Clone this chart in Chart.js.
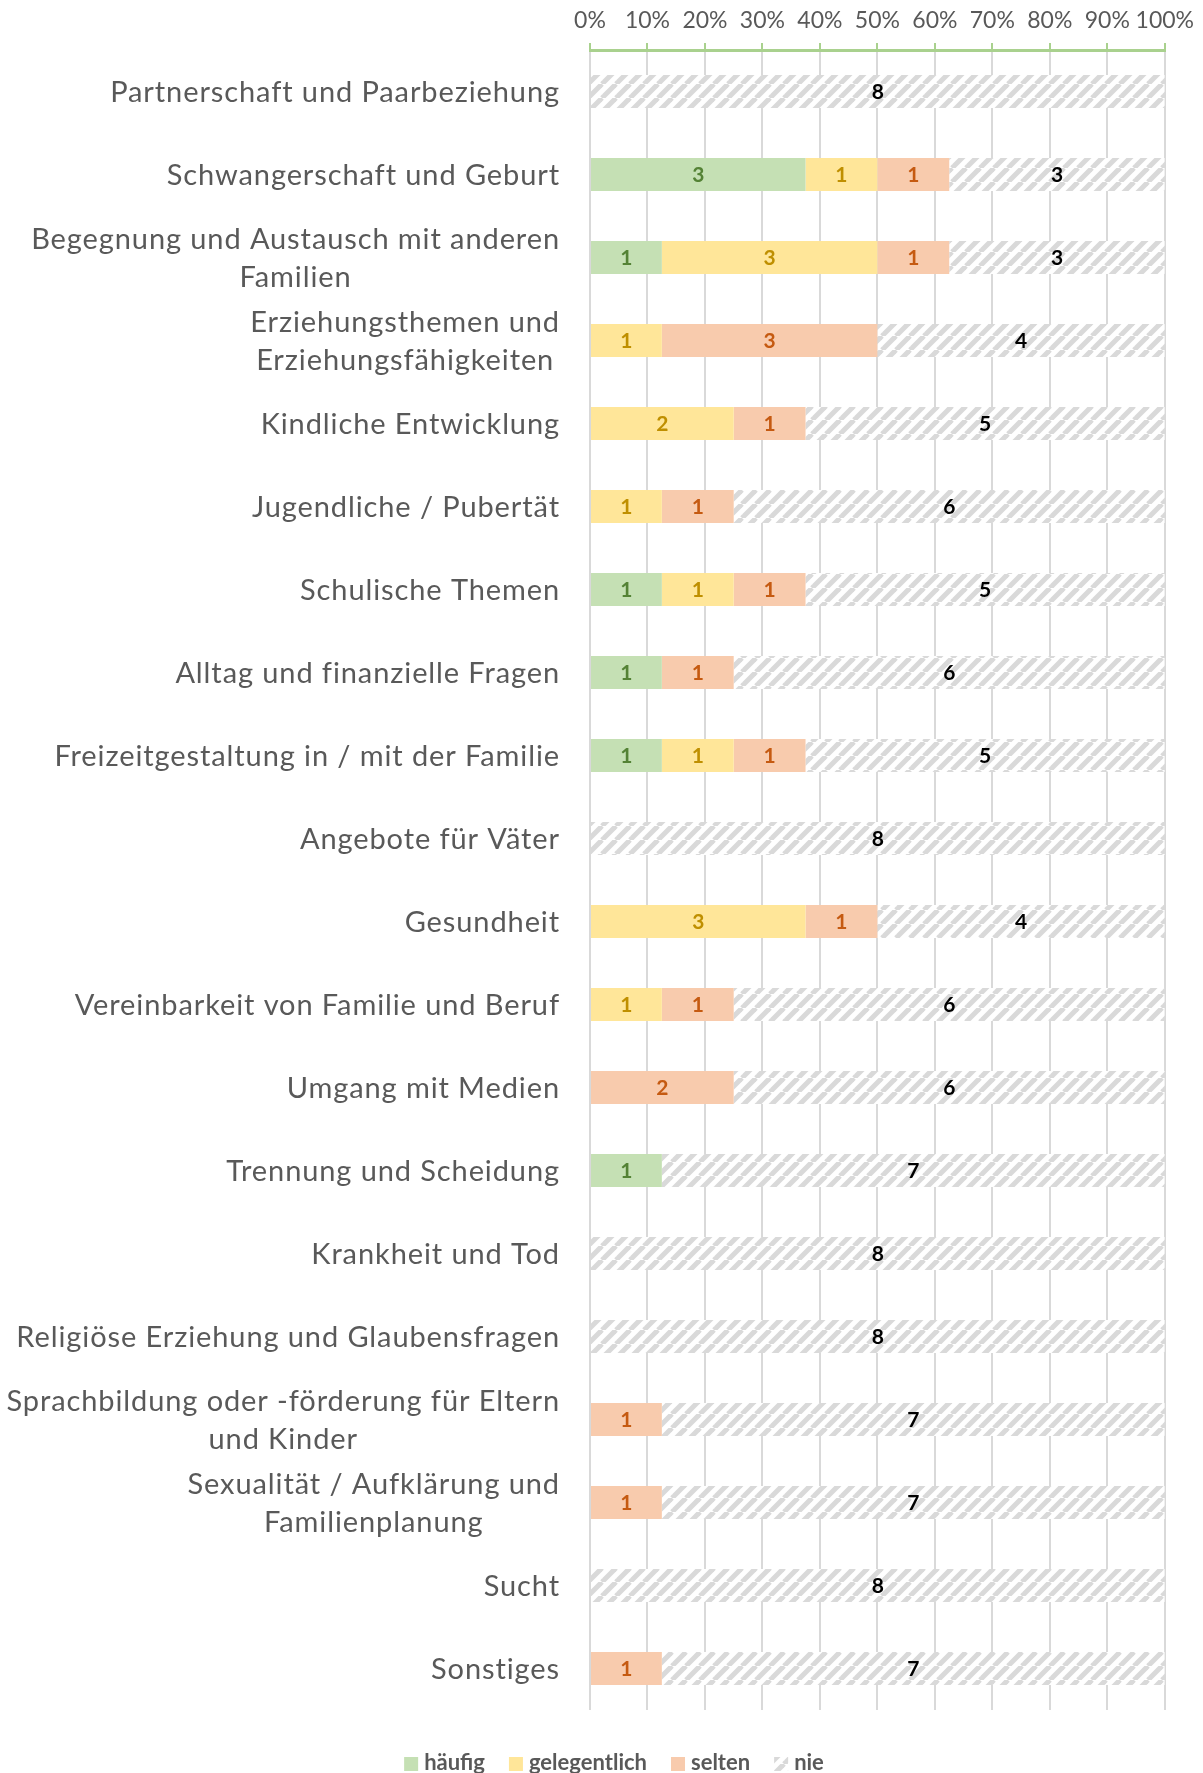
<!DOCTYPE html>
<html>
<head>
<meta charset="utf-8">
<script src="https://cdn.jsdelivr.net/npm/chart.js@4/dist/chart.umd.min.js"></script>
<style>
  html, body { margin: 0; padding: 0; background: #fff; }
  #wrap { width: 1203px; height: 1773px; }
</style>
</head>
<body>
<div id="wrap"><canvas id="barChart"></canvas></div>
<script>
// categories (one array per label, one entry per line)
var categories = [
  ['Partnerschaft und Paarbeziehung'],
  ['Schwangerschaft und Geburt'],
  ['Begegnung und Austausch mit anderen', 'Familien'],
  ['Erziehungsthemen und', 'Erziehungsfähigkeiten'],
  ['Kindliche Entwicklung'],
  ['Jugendliche / Pubertät'],
  ['Schulische Themen'],
  ['Alltag und finanzielle Fragen'],
  ['Freizeitgestaltung in / mit der Familie'],
  ['Angebote für Väter'],
  ['Gesundheit'],
  ['Vereinbarkeit von Familie und Beruf'],
  ['Umgang mit Medien'],
  ['Trennung und Scheidung'],
  ['Krankheit und Tod'],
  ['Religiöse Erziehung und Glaubensfragen'],
  ['Sprachbildung oder -förderung für Eltern', 'und Kinder'],
  ['Sexualität / Aufklärung und', 'Familienplanung'],
  ['Sucht'],
  ['Sonstiges']
];

var seriesNames = ['häufig', 'gelegentlich', 'selten', 'nie'];

var haeufig      = [0, 3, 1, 0, 0, 0, 1, 1, 1, 0, 0, 0, 0, 1, 0, 0, 0, 0, 0, 0];
var gelegentlich = [0, 1, 3, 1, 2, 1, 1, 0, 1, 0, 3, 1, 0, 0, 0, 0, 0, 0, 0, 0];
var selten       = [0, 1, 1, 3, 1, 1, 1, 1, 1, 0, 1, 1, 2, 0, 0, 0, 1, 1, 0, 1];
var nie          = [8, 3, 3, 4, 5, 6, 5, 6, 5, 8, 4, 6, 6, 7, 8, 8, 7, 7, 8, 7];

var tickLabels = ['0%', '10%', '20%', '30%', '40%', '50%', '60%', '70%', '80%', '90%', '100%'];

var counts = [haeufig, gelegentlich, selten, nie];
var fills = ['#C5E0B4', '#FFE699', '#F8CBAD', null];
var labelColors = ['#548235', '#BF8F00', '#C55A11', '#000000'];
var textGray = '#595959';
var FONT = 'Lato, "Noto Sans", sans-serif';

// hatch pattern for "nie"
function makeHatch() {
  var p = 14;
  var c = document.createElement('canvas');
  c.width = p; c.height = p;
  var g = c.getContext('2d');
  g.fillStyle = '#ffffff';
  g.fillRect(0, 0, p, p);
  g.strokeStyle = '#D9D9D9';
  g.lineWidth = 5;
  for (var k = -1; k <= 1; k++) {
    g.beginPath();
    g.moveTo(k * p, p);
    g.lineTo(k * p + p, 0);
    g.stroke();
  }
  return g.createPattern(c, 'repeat');
}
fills[3] = makeHatch();

// row totals -> percentages for 100% stacking
var totals = categories.map(function (c, i) {
  return counts.reduce(function (s, arr) { return s + arr[i]; }, 0);
});
function toPercent(arr) {
  return arr.map(function (v, i) { return totals[i] ? v / totals[i] * 100 : 0; });
}

var datasets = seriesNames.map(function (name, k) {
  return {
    label: name,
    data: toPercent(counts[k]),
    backgroundColor: fills[k],
    borderWidth: 0,
    categoryPercentage: 1,
    barPercentage: 0.4
  };
});

// value labels in the middle of each segment
var valueLabels = {
  id: 'valueLabels',
  afterDatasetsDraw: function (chart) {
    var ctx = chart.ctx;
    ctx.save();
    ctx.font = 'bold 21px ' + FONT;
    ctx.textAlign = 'center';
    ctx.textBaseline = 'middle';
    chart.data.datasets.forEach(function (ds, k) {
      var meta = chart.getDatasetMeta(k);
      meta.data.forEach(function (bar, i) {
        var v = counts[k][i];
        if (!v) return;
        var pt = bar.getCenterPoint();
        ctx.fillStyle = labelColors[k];
        ctx.fillText(String(v), pt.x, pt.y + 1);
      });
    });
    ctx.restore();
  }
};

// category labels: block right aligned, lines centred in the block
var categoryLabels = {
  id: 'categoryLabels',
  afterDraw: function (chart) {
    var ctx = chart.ctx;
    var yScale = chart.scales.y;
    var right = chart.chartArea.left - 30;
    var lineH = 38.5;
    ctx.save();
    ctx.font = '29px ' + FONT;
    ctx.letterSpacing = '0.9px';
    ctx.fillStyle = textGray;
    ctx.textAlign = 'center';
    ctx.textBaseline = 'middle';
    categories.forEach(function (lines, i) {
      var y = yScale.getPixelForValue(i) + 1;
      var w = 0;
      lines.forEach(function (l) { w = Math.max(w, ctx.measureText(l).width); });
      var cx = right - w / 2;
      lines.forEach(function (l, j) {
        ctx.fillText(l, cx, y + (j - (lines.length - 1) / 2) * lineH);
      });
    });
    ctx.restore();
  }
};

// legend at the bottom
var bottomLegend = {
  id: 'bottomLegend',
  afterDraw: function (chart) {
    var ctx = chart.ctx;
    var box = 14, gap = 6, spacing = 24;
    var y = 1764;
    ctx.save();
    ctx.font = 'bold 22px ' + FONT;
    ctx.textBaseline = 'middle';
    var widths = seriesNames.map(function (n) { return ctx.measureText(n).width; });
    var total = widths.reduce(function (s, w) { return s + box + gap + w; }, 0) + spacing * (seriesNames.length - 1);
    var x = 614 - total / 2;
    seriesNames.forEach(function (n, k) {
      ctx.fillStyle = fills[k];
      ctx.fillRect(x, y - box / 2, box, box);
      ctx.fillStyle = textGray;
      ctx.textAlign = 'left';
      ctx.fillText(n, x + box + gap, y - 1);
      x += box + gap + widths[k] + spacing;
    });
    ctx.restore();
  }
};

var ctx = document.getElementById('barChart');
var barChart = new Chart(ctx, {
  type: 'bar',
  data: {
    labels: categories.map(function (c) { return c.join(' '); }),
    datasets: datasets
  },
  options: {
    indexAxis: 'y',
    responsive: true,
    maintainAspectRatio: false,
    animation: false,
    layout: { padding: { top: 0, right: 34, bottom: 63, left: 0 } },
    plugins: {
      legend: { display: false },
      tooltip: { enabled: false }
    },
    scales: {
      x: {
        position: 'top',
        stacked: true,
        min: 0,
        max: 100,
        ticks: {
          stepSize: 10,
          padding: 9,
          autoSkip: false,
          maxRotation: 0,
          minRotation: 0,
          color: textGray,
          font: { family: FONT, size: 23 },
          callback: function (v, i) { return tickLabels[i]; }
        },
        grid: {
          color: '#D9D9D9',
          lineWidth: 2,
          tickColor: '#A9D18E',
          tickLength: 7,
          tickWidth: 2
        },
        border: { color: '#A9D18E', width: 3 },
        afterFit: function (scale) { scale.height = 50; }
      },
      y: {
        stacked: true,
        ticks: { display: false },
        grid: { display: false },
        border: { display: false },
        afterFit: function (scale) { scale.width = 590; }
      }
    }
  },
  plugins: [valueLabels, categoryLabels, bottomLegend]
});
</script>
</body>
</html>
